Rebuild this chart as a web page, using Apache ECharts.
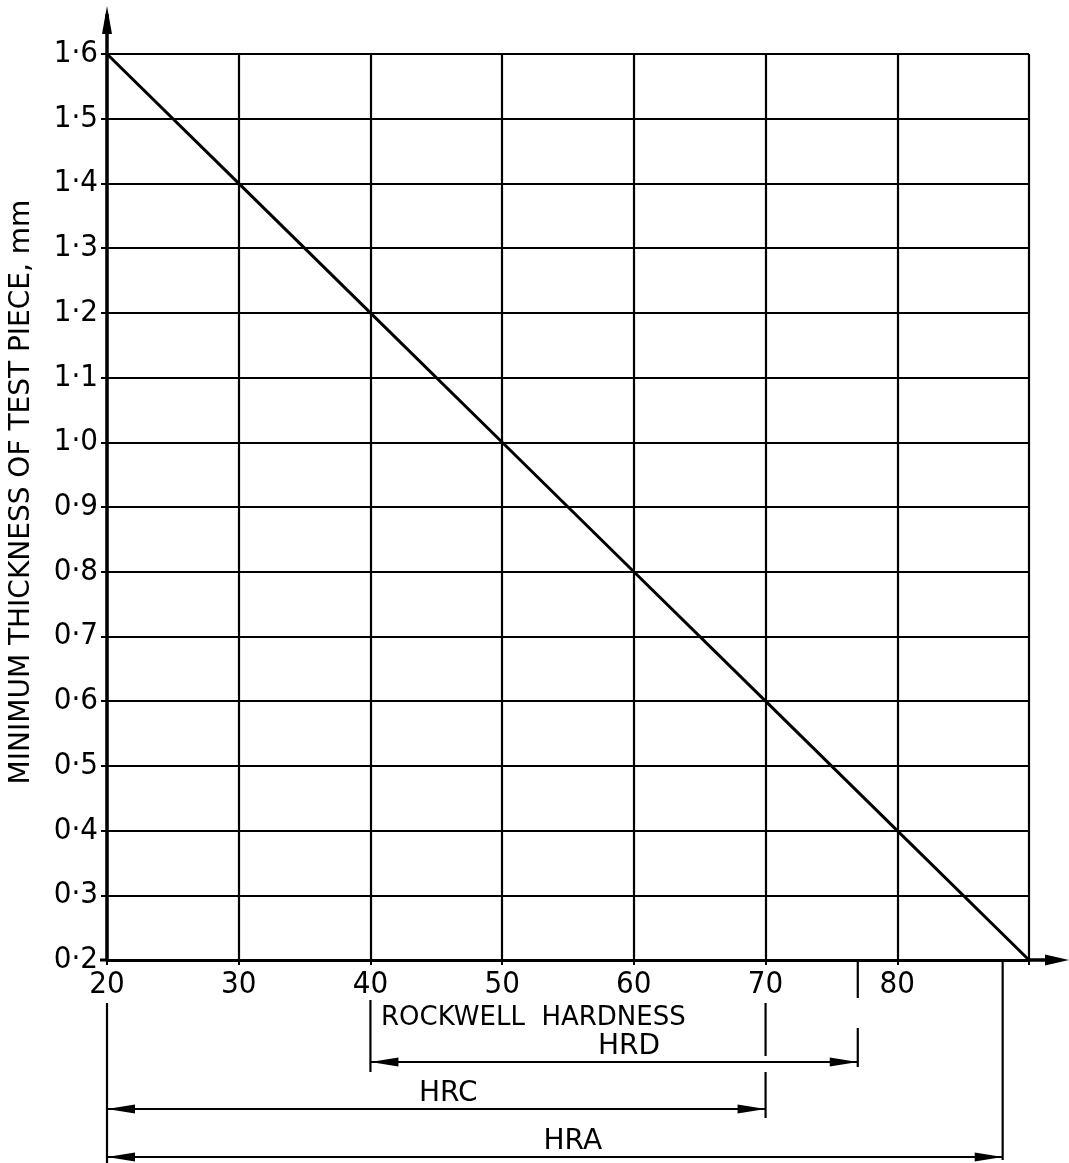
<!DOCTYPE html>
<html>
<head>
<meta charset="utf-8">
<script src="https://cdn.jsdelivr.net/npm/echarts@6/dist/echarts.min.js"></script>
<style>
html,body{margin:0;padding:0;background:#fff;}
#chart{width:1069px;height:1163px;}
</style>
</head>
<body>
<div id="chart"></div>
<script>
// ---- data ----
const hardness = [20, 30, 40, 50, 60, 70, 80, 90];
const minThickness = [1.6, 1.4, 1.2, 1.0, 0.8, 0.6, 0.4, 0.2];
const xTickLabels = ['20', '30', '40', '50', '60', '70', '80', ''];
const scaleNames = ['HRD', 'HRC', 'HRA'];
const scaleFrom = [40, 20, 20];
const scaleTo = [77, 70, 88];
const yTitle = 'MINIMUM THICKNESS OF TEST PIECE, mm';
const xTitle = 'ROCKWELL  HARDNESS';

// ---- layout ----
const FONT = '"DejaVu Sans Condensed","Liberation Sans Narrow","DejaVu Sans",sans-serif';
const chart = echarts.init(document.getElementById('chart'), null, {renderer: 'canvas'});

const option = {
  backgroundColor: '#fff',
  animation: false,
  grid: {left: 107, right: 40, top: 54, bottom: 203, show: false},
  xAxis: {
    type: 'value', min: 20, max: 90, interval: 10,
    axisLine: {show: true, lineStyle: {color: '#000', width: 3}},
    axisTick: {show: true, length: 5, inside: false, lineStyle: {color: '#000', width: 2}},
    axisLabel: {
      color: '#000', fontFamily: FONT, fontSize: 31, margin: 9,
      formatter: function (v) { const i = hardness.indexOf(v); return i >= 0 ? xTickLabels[i] : ''; }
    },
    splitLine: {show: true, lineStyle: {color: '#000', width: 2.2}}
  },
  yAxis: {
    type: 'value', min: 0.2, max: 1.6, interval: 0.1,
    axisLine: {show: true, onZero: false, lineStyle: {color: '#000', width: 3.5}},
    axisTick: {show: true, length: 6, lineStyle: {color: '#000', width: 2}},
    axisLabel: {
      color: '#000', fontFamily: FONT, fontSize: 31, margin: 9,
      formatter: function (v) { return v.toFixed(1).replace('.', '\u00b7'); }
    },
    splitLine: {show: true, lineStyle: {color: '#000', width: 2.2}}
  },
  series: [{
    type: 'line',
    data: hardness.map((h, i) => [h, minThickness[i]]),
    symbol: 'none',
    lineStyle: {color: '#000', width: 3},
    clip: false
  }]
};
chart.setOption(option);

// ---- annotations (pixel positions from the chart's own scales) ----
const px = v => chart.convertToPixel({gridIndex: 0}, [v, 0.2])[0];
const axisY = chart.convertToPixel({gridIndex: 0}, [20, 0.2])[1];
const topY = chart.convertToPixel({gridIndex: 0}, [20, 1.6])[1];
const leftX = px(20), rightX = px(90);

const g = [];
const line = (x1, y1, x2, y2, w) => g.push({type: 'line', shape: {x1, y1, x2, y2}, style: {stroke: '#000', lineWidth: w || 2}, z: 10});
const arrowHead = (tipX, tipY, dir, len, half) => {
  let pts;
  if (dir === 'left') pts = [[tipX, tipY], [tipX + len, tipY - half], [tipX + len, tipY + half]];
  else if (dir === 'right') pts = [[tipX, tipY], [tipX - len, tipY - half], [tipX - len, tipY + half]];
  else pts = [[tipX, tipY], [tipX - half, tipY + len], [tipX + half, tipY + len]];
  g.push({type: 'polygon', shape: {points: pts}, style: {fill: '#000'}, z: 11});
};
const text = (t, x, y, size, align, rot, family) => g.push({
  type: 'text', x, y, rotation: rot || 0,
  style: {text: t, fill: '#000', font: size + 'px ' + (family || FONT), textAlign: align || 'center', textVerticalAlign: 'middle'},
  z: 12
});

// axis arrows
line(leftX, topY, leftX, 14, 3.5);
arrowHead(leftX, 6, 'up', 28, 5);
line(leftX - 7, axisY, leftX, axisY, 3);
line(rightX, axisY, 1050, axisY, 3.5);
arrowHead(1069, axisY, 'right', 24, 5.5);

// axis titles
text(yTitle, 22, 492, 28, 'center', Math.PI / 2, '"DejaVu Sans",sans-serif');
text(xTitle, 381, 1018, 26, 'left', 0, '"DejaVu Sans",sans-serif');

// scale brackets
const rowY = [1062, 1109, 1157];
const labelY = [1047, 1094, 1142];
const labelDx = [15, 12, 18];
for (let i = 0; i < scaleNames.length; i++) {
  const x1 = px(scaleFrom[i]), x2 = px(scaleTo[i]);
  line(x1, rowY[i], x2, rowY[i], 2.2);
  arrowHead(x1, rowY[i], 'left', 28, 4.5);
  arrowHead(x2, rowY[i], 'right', 28, 4.5);
  text(scaleNames[i], (x1 + x2) / 2 + labelDx[i], labelY[i], 28, 'center', 0, '"DejaVu Sans",sans-serif');
}
// extension lines
line(px(20), 1003, px(20), 1163, 2.2);
line(px(40), 1000, px(40), 1072, 2.2);
line(px(70), 1003, px(70), 1056, 2.2);
line(px(70), 1072, px(70), 1118, 2.2);
line(px(77), axisY + 2, px(77), 998, 2.2);
line(px(77), 1028, px(77), 1067, 2.2);
line(px(88), axisY + 2, px(88), 1160, 2.2);

chart.setOption({graphic: g});
</script>
</body>
</html>
